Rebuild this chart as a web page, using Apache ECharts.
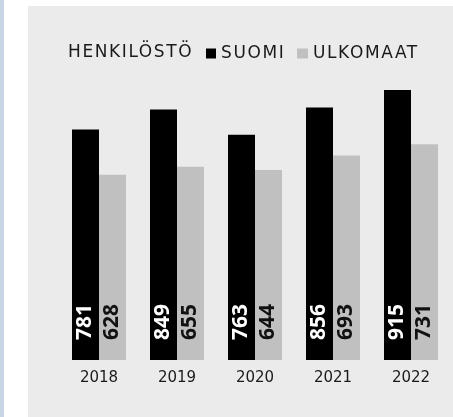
<!DOCTYPE html>
<html>
<head>
<meta charset="utf-8">
<script src="https://cdn.jsdelivr.net/npm/echarts@6/dist/echarts.min.js"></script>
<style>
html,body{margin:0;padding:0;background:#ffffff;}
#chart{width:453px;height:417px;}
</style>
</head>
<body>
<div id="chart"></div>
<script>
const categories = ['2018', '2019', '2020', '2021', '2022'];
const suomi = [781, 849, 763, 856, 915];
const ulkomaat = [628, 655, 644, 693, 731];
const titleText = 'HENKILÖSTÖ';
const seriesNames = ['SUOMI', 'ULKOMAAT'];

// tracked (letter-spaced) header texts, as in the reference
const spacedTexts = new Set([titleText].concat(seriesNames));
const origFillText = CanvasRenderingContext2D.prototype.fillText;
CanvasRenderingContext2D.prototype.fillText = function (t, x, y, m) {
  if (spacedTexts.has(t) && 'letterSpacing' in this) {
    const prev = this.letterSpacing;
    this.letterSpacing = '1.6px';
    if (arguments.length > 3) origFillText.call(this, t, x, y, m); else origFillText.call(this, t, x, y);
    this.letterSpacing = prev;
  } else {
    if (arguments.length > 3) origFillText.call(this, t, x, y, m); else origFillText.call(this, t, x, y);
  }
};

const chart = echarts.init(document.getElementById('chart'), null, {renderer: 'canvas'});
const headFont = 'DejaVu Sans';
const legendText = {fontFamily: headFont, fontSize: 17, color: '#1a1a1a'};
chart.setOption({
  animation: false,
  backgroundColor: '#ffffff',
  graphic: [
    {type: 'rect', left: 0, top: 0, shape: {width: 4, height: 417}, style: {fill: '#c8d5e3'}, z: -10},
    {type: 'rect', left: 28, top: 6, shape: {width: 425, height: 411}, style: {fill: '#ebebeb'}, z: -10}
  ],
  title: {
    text: titleText,
    left: 68,
    top: 44,
    padding: 0,
    textStyle: Object.assign({fontWeight: 'normal'}, legendText)
  },
  legend: [
    {data: [seriesNames[0]], left: 206, top: 45, padding: 0, icon: 'rect', itemWidth: 10, itemHeight: 10, itemGap: 5, textStyle: legendText},
    {data: [seriesNames[1]], left: 297, top: 45, padding: 0, icon: 'rect', itemWidth: 11, itemHeight: 10, textStyle: legendText}
  ],
  grid: {left: 60, right: 3, top: 90, bottom: 57},
  xAxis: {
    type: 'category',
    data: categories,
    axisLine: {show: false},
    axisTick: {show: false},
    axisLabel: {margin: 11, fontFamily: headFont, fontSize: 15, color: '#1a1a1a'}
  },
  yAxis: {type: 'value', min: 0, max: 915, show: false, splitLine: {show: false}},
  series: [
    {
      name: seriesNames[0], type: 'bar', data: suomi, barWidth: 27, barGap: '0%',
      itemStyle: {color: '#000000'},
      label: {show: true, position: 'insideBottom', rotate: 90, align: 'left', verticalAlign: 'middle', distance: 20,
        fontFamily: 'Open Sans', fontWeight: 'bold', fontSize: 21, color: '#ffffff'}
    },
    {
      name: seriesNames[1], type: 'bar', data: ulkomaat, barWidth: 27, barGap: '0%',
      itemStyle: {color: '#c0c0c0'},
      label: {show: true, position: 'insideBottom', rotate: 90, align: 'left', verticalAlign: 'middle', distance: 20,
        fontFamily: 'Open Sans', fontWeight: 'bold', fontSize: 21, color: '#111111'}
    }
  ]
});
</script>
</body>
</html>
